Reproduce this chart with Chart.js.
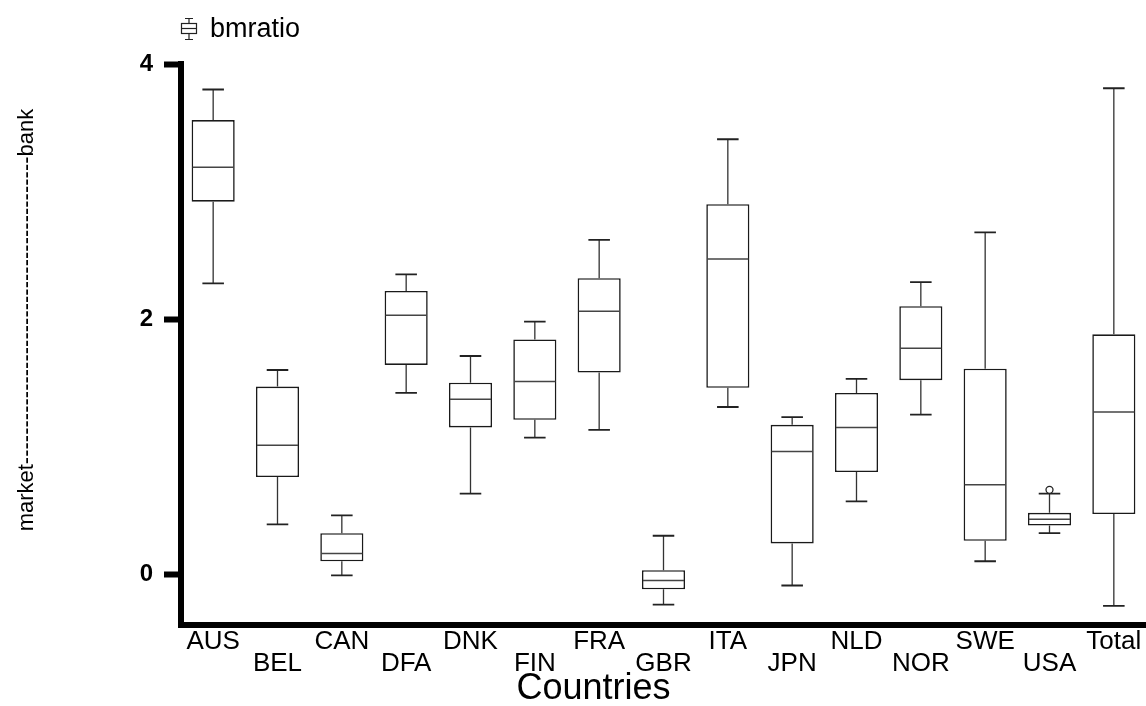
<!DOCTYPE html>
<html>
<head>
<meta charset="utf-8">
<title>bmratio by country</title>
<script src="https://cdn.jsdelivr.net/npm/chart.js@4.4.1/dist/chart.umd.min.js"></script>
<style>
  html, body { margin: 0; padding: 0; background: #fff; }
  #wrap { width: 1146px; height: 706px; }
</style>
</head>
<body>
<div id="wrap"><canvas id="box"></canvas></div>
<script>
// countries along the x axis
const countries = ["AUS", "BEL", "CAN", "DFA", "DNK", "FIN", "FRA", "GBR", "ITA", "JPN", "NLD", "NOR", "SWE", "USA", "Total"];
// five number summary per country
const whiskerLow = [2.28, 0.39, -0.01, 1.42, 0.63, 1.07, 1.13, -0.24, 1.31, -0.09, 0.57, 1.25, 0.10, 0.32, -0.25];
const q1 = [2.92, 0.76, 0.10, 1.64, 1.15, 1.21, 1.58, -0.12, 1.46, 0.24, 0.80, 1.52, 0.26, 0.38, 0.47];
const median = [3.19, 1.01, 0.16, 2.03, 1.37, 1.51, 2.06, -0.05, 2.47, 0.96, 1.15, 1.77, 0.70, 0.43, 1.27];
const q3 = [3.56, 1.47, 0.32, 2.22, 1.50, 1.84, 2.32, 0.03, 2.90, 1.17, 1.42, 2.10, 1.61, 0.48, 1.88];
const whiskerHigh = [3.80, 1.60, 0.46, 2.35, 1.71, 1.98, 2.62, 0.30, 3.41, 1.23, 1.53, 2.29, 2.68, 0.63, 3.81];
// outlying points (only USA has one)
const outliers = [[], [], [], [], [], [], [], [], [], [], [], [], [], [0.66], []];
const yTicks = [0, 2, 4];
const seriesName = "bmratio";

const fontFamily = "'Liberation Sans', Arial, sans-serif";

// whiskers, caps, medians and outliers on top of the floating bars
const boxExtras = {
	id: "boxExtras",
	afterDatasetsDraw(chart) {
		const ctx = chart.ctx;
		const y = chart.scales.y;
		const meta = chart.getDatasetMeta(0);
		ctx.save();
		meta.data.forEach((bar, i) => {
			const cx = bar.x;
			const half = bar.width / 2;
			const cap = bar.width / 4;
			const yLo = y.getPixelForValue(whiskerLow[i]);
			const yHi = y.getPixelForValue(whiskerHigh[i]);
			const yQ1 = y.getPixelForValue(q1[i]);
			const yQ3 = y.getPixelForValue(q3[i]);
			const yMed = y.getPixelForValue(median[i]);
			// stems
			ctx.strokeStyle = "#333";
			ctx.lineWidth = 1.3;
			ctx.beginPath();
			ctx.moveTo(cx, yQ3);
			ctx.lineTo(cx, yHi);
			ctx.moveTo(cx, yQ1);
			ctx.lineTo(cx, yLo);
			ctx.stroke();
			// caps
			ctx.strokeStyle = "#222";
			ctx.lineWidth = 1.8;
			ctx.beginPath();
			ctx.moveTo(cx - cap, yHi);
			ctx.lineTo(cx + cap, yHi);
			ctx.moveTo(cx - cap, yLo);
			ctx.lineTo(cx + cap, yLo);
			ctx.stroke();
			// median
			ctx.strokeStyle = "#444";
			ctx.lineWidth = 1.5;
			ctx.beginPath();
			ctx.moveTo(cx - half + 1, yMed);
			ctx.lineTo(cx + half - 1, yMed);
			ctx.stroke();
			// outliers
			outliers[i].forEach((v) => {
				ctx.beginPath();
				ctx.fillStyle = "#fff";
				ctx.strokeStyle = "#222";
				ctx.lineWidth = 1.3;
				ctx.arc(cx, y.getPixelForValue(v), 3.5, 0, Math.PI * 2);
				ctx.fill();
				ctx.stroke();
			});
		});
		ctx.restore();
	},
};

// small boxplot glyph plus series name, top left
const legendBox = {
	id: "legendBox",
	afterDraw(chart) {
		const ctx = chart.ctx;
		const left = chart.chartArea.left;
		const cx = left + 8;
		ctx.save();
		ctx.strokeStyle = "#222";
		ctx.lineWidth = 1.2;
		ctx.beginPath();
		ctx.moveTo(cx - 4, 18.5);
		ctx.lineTo(cx + 4, 18.5);
		ctx.moveTo(cx, 18.5);
		ctx.lineTo(cx, 23.5);
		ctx.moveTo(cx, 33.5);
		ctx.lineTo(cx, 39.5);
		ctx.moveTo(cx - 4, 39.5);
		ctx.lineTo(cx + 4, 39.5);
		ctx.stroke();
		ctx.strokeRect(cx - 7.5, 23.5, 15, 10);
		ctx.beginPath();
		ctx.moveTo(cx - 7.5, 28.5);
		ctx.lineTo(cx + 7.5, 28.5);
		ctx.stroke();
		ctx.fillStyle = "#000";
		ctx.font = "27px " + fontFamily;
		ctx.textBaseline = "alphabetic";
		ctx.textAlign = "left";
		ctx.fillText(seriesName, left + 29, 37);
		ctx.restore();
	},
};

const boxChart = new Chart(document.getElementById("box"), {
	type: "bar",
	data: {
		labels: countries,
		datasets: [
			{
				label: seriesName,
				data: countries.map((c, i) => [q1[i], q3[i]]),
				backgroundColor: "#fff",
				borderColor: "#1a1a1a",
				borderWidth: 1.6,
				borderSkipped: false,
				barPercentage: 0.67,
				categoryPercentage: 1,
			},
		],
	},
	options: {
		responsive: true,
		maintainAspectRatio: false,
		animation: false,
		layout: {
			padding: { top: 64, right: 0, bottom: 0, left: 0 },
		},
		plugins: {
			legend: { display: false },
			tooltip: { enabled: false },
		},
		scales: {
			x: {
				offset: true,
				grid: { display: false },
				border: { display: true, color: "#000", width: 6 },
				ticks: {
					color: "#000",
					autoSkip: false,
					maxRotation: 0,
					minRotation: 0,
					padding: -3,
					font: { family: fontFamily, size: 26, lineHeight: 0.88 },
					// alternate labels between two rows
					callback: (val, i) => (i % 2 === 0 ? [countries[i]] : ["", countries[i]]),
				},
				title: {
					display: true,
					// trailing spaces pull the title left of the plot centre, as in the original
					text: "Countries" + " ".repeat(14),
					color: "#000",
					font: { family: fontFamily, size: 36, lineHeight: 1 },
					padding: { top: 0, bottom: -1 },
				},
				afterFit: (scale) => {
					scale.height = 81;
				},
			},
			y: {
				min: -0.4,
				max: 4,
				grid: {
					display: true,
					drawOnChartArea: false,
					drawTicks: true,
					tickLength: 17,
					tickWidth: 6,
					tickColor: "#000",
				},
				border: { display: true, color: "#000", width: 6 },
				ticks: {
					color: "#000",
					padding: 11,
					font: { family: fontFamily, size: 24, weight: "bold" },
				},
				afterBuildTicks: (scale) => {
					scale.ticks = yTicks.map((v) => ({ value: v }));
				},
				title: {
					display: true,
					// leading spaces lift the label a little above the plot centre
					text: " ".repeat(8) + "market" + "-".repeat(42) + "bank",
					color: "#000",
					font: { family: fontFamily, size: 22 },
					padding: { top: 14, bottom: 0 },
				},
				afterFit: (scale) => {
					scale.width = 181;
				},
			},
		},
	},
	plugins: [boxExtras, legendBox],
});
</script>
</body>
</html>
